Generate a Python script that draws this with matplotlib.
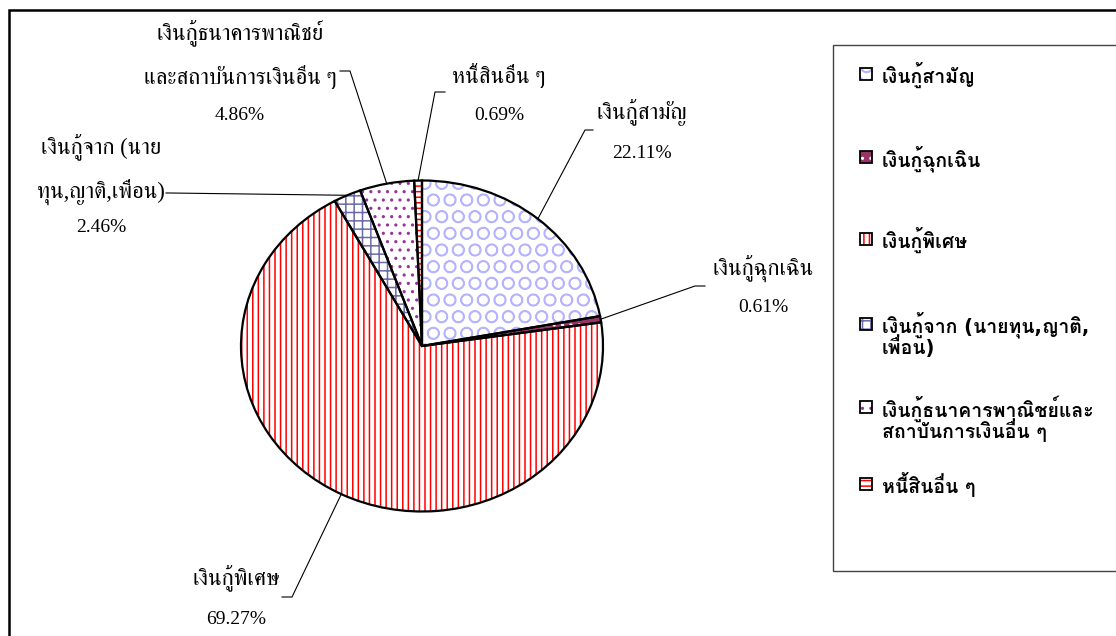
import matplotlib
matplotlib.use('Agg')
import numpy as np
import matplotlib.pyplot as plt
import matplotlib.font_manager as fm
from matplotlib.ft2font import FT2Font
from matplotlib.patches import Rectangle
from matplotlib.lines import Line2D

# data
categories = ['เงินกู้สามัญ', 'เงินกู้ฉุกเฉิน', 'เงินกู้พิเศษ',
              'เงินกู้จาก (นายทุน,ญาติ,เพื่อน)',
              'เงินกู้ธนาคารพาณิชย์และสถาบันการเงินอื่น ๆ', 'หนี้สินอื่น ๆ']
shares = [22.11, 0.61, 69.27, 2.46, 4.86, 0.69]
label_lines = [['เงินกู้สามัญ'], ['เงินกู้ฉุกเฉิน'], ['เงินกู้พิเศษ'],
               ['เงินกู้จาก (นาย', 'ทุน,ญาติ,เพื่อน)'],
               ['เงินกู้ธนาคารพาณิชย์', 'และสถาบันการเงินอื่น ๆ'],
               ['หนี้สินอื่น ๆ']]
legend_labels = ['เงินกู้สามัญ', 'เงินกู้ฉุกเฉิน', 'เงินกู้พิเศษ',
                 'เงินกู้จาก (นายทุน,ญาติ,\nเพื่อน)',
                 'เงินกู้ธนาคารพาณิชย์และ\nสถาบันการเงินอื่น ๆ',
                 'หนี้สินอื่น ๆ']

# styles: (face, hatch colour, hatch)
styles = [('white', '#b4b4ff', 'O'),
          ('#993366', 'white', '..'),
          ('white', '#ff0000', '|||'),
          ('white', '#6a6aa8', '++'),
          ('white', '#993399', '..'),
          ('white', '#ff0000', '---')]

# layout in pixels (origin top-left)
W, H = 1116, 636
lab_x = [642, 763, 236, 101, 240, 499]
lab_y = [[113, 153], [268, 308], [578, 620], [147, 192, 228],
         [33, 77, 115], [75, 115]]
lead_end = [(593, 130), (705, 286), (282, 597), (166, 193), (340, 71), (445, 92)]
lead_elbow = [(585, 130), (695, 286), (292, 597), (170, 193), (350, 71), (435, 92)]
leg_y = [75, 158, 240, 325, 408, 485]


def thai_fonts():
    found = []
    for f in fm.fontManager.ttflist:
        if f.name in found:
            continue
        try:
            if 0x0E07 in FT2Font(f.fname).get_charmap():
                found.append(f.name)
        except Exception:
            pass
    return found


thai = thai_fonts()
serif_pref = [n for n in thai if 'Serif' in n or n in ('Norasi', 'Kinnari', 'TH Sarabun New', 'Tlwg Typo')]
sans_pref = [n for n in thai if n not in serif_pref]
serif_fam = ['Liberation Serif'] + serif_pref[:1] + sans_pref[:1]
sans_fam = ['DejaVu Sans'] + sans_pref[:1] + serif_pref[:1]

plt.rcParams['hatch.linewidth'] = 1.1


def px(x, y):
    return x / W, 1 - y / H


fig = plt.figure(figsize=(W / 100, H / 100), dpi=100)

# pie is a bit wider than tall, as in the source
cx, cy, rx, ry = 422, 346, 181, 165.5
ax = fig.add_axes([(cx - rx) / W, 1 - (cy + ry) / H, 2 * rx / W, 2 * ry / H])
wedges, _ = ax.pie(shares, startangle=90, counterclock=False,
                   wedgeprops=dict(linewidth=0))
for w, (fc, hc, hp) in zip(wedges, styles):
    w.set_facecolor(fc)
    w.set_edgecolor(hc)
    w.set_hatch(hp)
outline, _ = ax.pie(shares, startangle=90, counterclock=False,
                    wedgeprops=dict(fill=False, edgecolor='black', linewidth=1.6))
ax.set_aspect('auto')
ax.set_xlim(-1, 1)
ax.set_ylim(-1, 1)
ax.axis('off')

# data labels with leader lines
pos = ax.get_position()
for i, w in enumerate(outline):
    mid = np.deg2rad((w.theta1 + w.theta2) / 2)
    axx = (np.cos(mid) + 1) / 2
    axy = (np.sin(mid) + 1) / 2
    anchor = (pos.x0 + axx * pos.width, pos.y0 + axy * pos.height)
    e = px(*lead_end[i])
    b = px(*lead_elbow[i])
    fig.add_artist(Line2D([e[0], b[0], anchor[0]], [e[1], b[1], anchor[1]],
                          color='black', linewidth=0.8))
    for t, y in zip(label_lines[i], lab_y[i]):
        fig.text(*px(lab_x[i], y), t, ha='center', va='center',
                 fontsize=16.3, family=serif_fam)
    fig.text(*px(lab_x[i], lab_y[i][-1]), '%.2f%%' % shares[i], ha='center',
             va='center', fontsize=14, family=serif_fam)

# legend box
fig.add_artist(Rectangle(px(833, 571), (1200 - 833) / W, (571 - 45) / H,
                         transform=fig.transFigure, fill=False,
                         edgecolor='#444444', linewidth=1))
for i, (fc, hc, hp) in enumerate(styles):
    y0 = leg_y[i]
    fig.add_artist(Rectangle(px(860, y0 + 5), 12 / W, 12 / H, transform=fig.transFigure,
                             facecolor=fc, edgecolor=hc, hatch=hp, linewidth=0))
    fig.add_artist(Rectangle(px(860, y0 + 5), 12 / W, 12 / H, transform=fig.transFigure,
                             fill=False, edgecolor='black', linewidth=1.3))
    fig.text(*px(882, y0 - 13), legend_labels[i], ha='left', va='top',
             fontsize=14, fontweight='bold', family=sans_fam, linespacing=0.8)

# outer chart frame
fig.add_artist(Rectangle(px(9, 700), 1200 / W, 690 / H, transform=fig.transFigure,
                         fill=False, edgecolor='black', linewidth=1.8))

fig.savefig('out.png', dpi=100, facecolor='white')
